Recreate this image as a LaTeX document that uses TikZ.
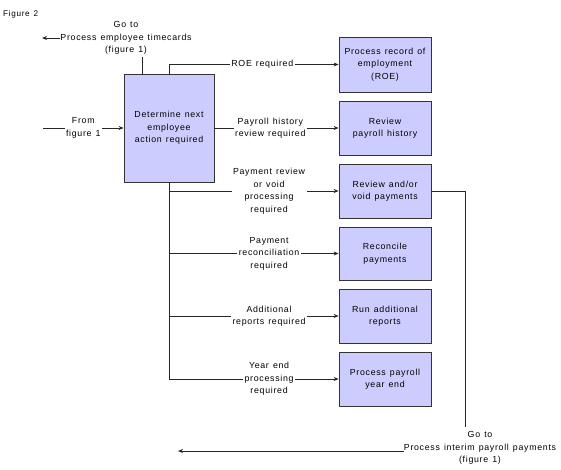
\documentclass[tikz,border=0pt]{standalone}
\usepackage{fontspec}
\setmainfont{Liberation Sans}[LetterSpace=8,WordSpace=1.3]
\usetikzlibrary{arrows.meta}
\begin{document}
\begin{tikzpicture}[x=1pt,y=-1pt,
  font=\fontsize{8.8}{12.5}\selectfont,
  box/.style={draw=black!80,fill=boxfill,line width=0.8pt,inner sep=0pt,align=center},
  conn/.style={draw=black!85,line width=0.7pt},
  arr/.style={conn,-{Stealth[length=5pt,width=4pt]}},
  lbl/.style={fill=white,inner sep=1.5pt,align=center},
  txt/.style={inner sep=0pt,align=center}]
\definecolor{boxfill}{HTML}{CCCCFF}
\useasboundingbox (0,0) rectangle (561,470);
\node[anchor=west,inner sep=0pt,font=\fontsize{8.2}{10}\selectfont] (fig) at (3,14) {Figure 2};
% main box
\node[box,minimum width=90pt,minimum height=108pt] (main) at (169,128) {Determine next\\employee\\action required};
% right boxes
\node[box,minimum width=92pt,minimum height=55pt] (b1) at (385,64.5) {Process record of\\employment\\(ROE)};
\node[box,minimum width=92pt,minimum height=54pt] (b2) at (385,128) {Review\\payroll history};
\node[box,minimum width=92pt,minimum height=54pt] (b3) at (385,191) {Review and/or\\void payments};
\node[box,minimum width=92pt,minimum height=53pt] (b4) at (385,253.5) {Reconcile\\payments};
\node[box,minimum width=92pt,minimum height=54pt] (b5) at (385,316) {Run additional\\reports};
\node[box,minimum width=92pt,minimum height=54pt] (b6) at (385,379) {Process payroll\\year end};
% top go to
\node[txt] (goto1) at (126,38) {Go to\\Process employee timecards\\(figure 1)};
\coordinate (t1) at (142,57);
\coordinate (t1end) at (42,38);
\draw[conn] (main.north -| t1) -- (t1);
\draw[arr] (goto1.west) -- (t1end);
% from figure 1
\coordinate (fromstart) at (43,128);
\draw[arr] (fromstart) -- node[lbl] {From\\figure 1} (main.west);
% ROE
\coordinate (roeA) at (169,64.5);
\draw[arr] (main.north) -- (roeA) -- node[lbl,pos=0.55] {ROE required} (b1.west);
% payroll history
\draw[arr] (main.east) -- node[lbl,pos=0.45] {Payroll history\\review required} (b2.west);
% vertical trunk
\coordinate (trunkEnd) at (169,379);
\draw[conn] (main.south) -- (trunkEnd);
\draw[arr] (main.south |- b3.west) -- node[lbl,pos=0.59] {Payment review\\or void\\processing\\required} (b3.west);
\draw[arr] (main.south |- b4.west) -- node[lbl,pos=0.59] {Payment\\reconciliation\\required} (b4.west);
\draw[arr] (main.south |- b5.west) -- node[lbl,pos=0.59] {Additional\\reports required} (b5.west);
\draw[arr] (trunkEnd) -- node[lbl,pos=0.59] {Year end\\processing\\required} (b6.west);
% bottom go to
\node[txt] (goto2) at (480,448) {Go to\\Process interim payroll payments\\(figure 1)};
\coordinate (r1) at (465,191);
\coordinate (r2) at (465,427);
\coordinate (bend) at (178,451);
\draw[conn] (b3.east) -- (r1) -- (r2);
\draw[arr] (goto2.west |- bend) -- (bend);
\end{tikzpicture}
\end{document}
